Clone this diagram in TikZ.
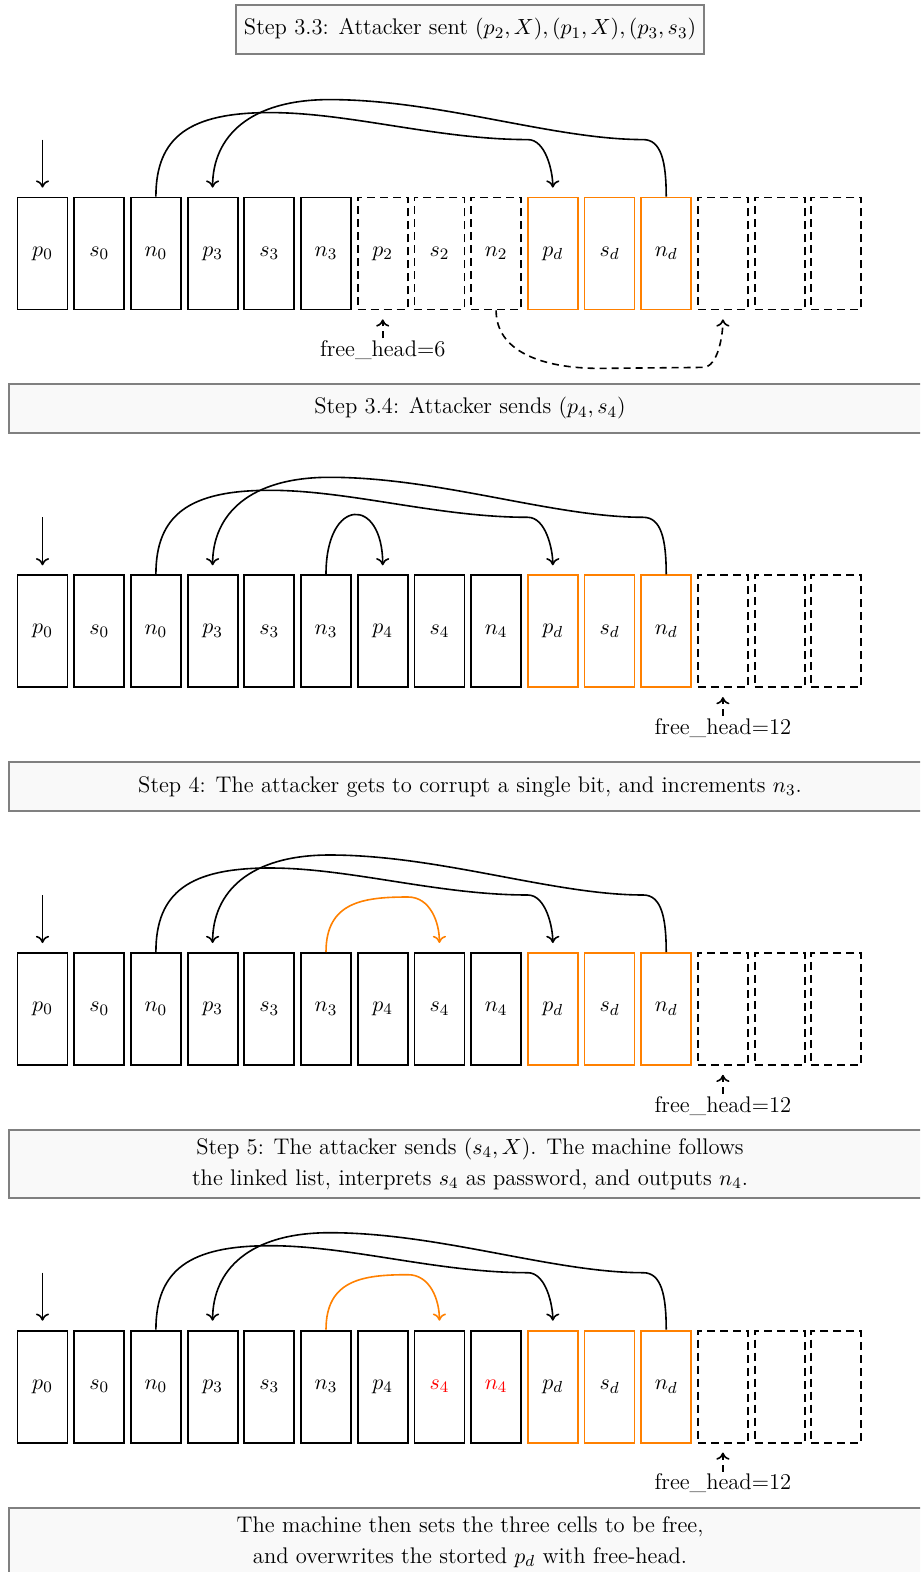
\documentclass[tikz,border=0pt]{standalone}
\usetikzlibrary{calc,arrows.meta}
\definecolor{myorange}{RGB}{255,128,0}
\definecolor{boxgray}{RGB}{128,128,128}
\definecolor{boxfill}{RGB}{249,249,249}
\begin{document}
\begin{tikzpicture}[x=0.5pt,y=-0.5pt,
  font=\fontsize{11.3}{15.5}\selectfont,
  >={To[length=3.6pt,width=6.6pt]},
  cellbase/.style={rectangle, minimum width=25pt, minimum height=56pt, inner sep=0pt, line width=0.9pt},
  cell/.style={cellbase, draw=black},
  hotcell/.style={cell, text=red},
  freecell/.style={cellbase, draw=black, dash pattern=on 4pt off 2.5pt},
  dcell/.style={cellbase, draw=myorange},
  stepbox/.style={rectangle, draw=boxgray, fill=boxfill, line width=1pt, inner xsep=4pt, minimum height=24.5pt, align=center},
  widebox/.style={stepbox, minimum width=461pt},
  link/.style={->, line width=0.8pt, shorten >=4.5pt},
  hotlink/.style={link, draw=myorange},
  freelink/.style={->, line width=0.8pt, dash pattern=on 3.5pt off 2.5pt, shorten >=4.5pt},
  headlabel/.style={anchor=north, inner sep=1pt},
]
\useasboundingbox (0,0) rectangle (920,1572);
\clip (0,0) rectangle (920,1572);

% ---------- title boxes ----------
\node[stepbox] (t0) at (470,29.5) {Step 3.3: Attacker sent $(p_2,X),(p_1,X),(p_3,s_3)$};
\node[widebox] (t1) at (470,408.5) {Step 3.4: Attacker sends $(p_4,s_4)$};
\node[widebox] (t2) at (470,786.5) {Step 4: The attacker gets to corrupt a single bit, and increments $n_3$.};
\node[widebox, minimum height=34pt] (t3) at (470,1164) {Step 5: The attacker sends $(s_4,X)$. The machine follows\\the linked list, interprets $s_4$ as password, and outputs $n_4$.};
\node[widebox, minimum height=34pt] (t4) at (470,1542) {The machine then sets the three cells to be free,\\and overwrites the storted $p_d$ with free-head.};

% ---------- cells ----------
\foreach \i/\lab/\sty in {0/p_0/cell,1/s_0/cell,2/n_0/cell,3/p_3/cell,4/s_3/cell,5/n_3/cell,6/p_2/freecell,7/s_2/freecell,8/n_2/freecell,9/p_d/dcell,10/s_d/dcell,11/n_d/dcell,12//freecell,13//freecell,14//freecell}
  \node[\sty] (a\i) at ({42.5+56.7*\i},253.5) {\ensuremath{\lab}};
\foreach \r/\y in {b/631.2,c/1008.9}
  \foreach \i/\lab/\sty in {0/p_0/cell,1/s_0/cell,2/n_0/cell,3/p_3/cell,4/s_3/cell,5/n_3/cell,6/p_4/cell,7/s_4/cell,8/n_4/cell,9/p_d/dcell,10/s_d/dcell,11/n_d/dcell,12//freecell,13//freecell,14//freecell}
    \node[\sty] (\r\i) at ({42.5+56.7*\i},\y) {\ensuremath{\lab}};
\foreach \i/\lab/\sty in {0/p_0/cell,1/s_0/cell,2/n_0/cell,3/p_3/cell,4/s_3/cell,5/n_3/cell,6/p_4/cell,7/s_4/hotcell,8/n_4/hotcell,9/p_d/dcell,10/s_d/dcell,11/n_d/dcell,12//freecell,13//freecell,14//freecell}
  \node[\sty] (d\i) at ({42.5+56.7*\i},1386.6) {\ensuremath{\lab}};

% ---------- common links ----------
\foreach \r in {a,b,c,d}{
  \coordinate (\r s) at ($(\r0.north)+(0,-57)$);
  \draw[link] (\r s) -- (\r0.north);
  \draw[link] (\r2.north) .. controls +(0,-60) and +(-80,0) .. ($(\r2.north)+(114,-84)$)
     .. controls +(80,0) and +(-90,0) .. ($(\r9.north)+(-25,-57)$)
     .. controls +(18,0) and +(0,-25) .. (\r9.north);
  \draw[link] (\r11.north) .. controls +(0,-35) and +(18,0) .. ($(\r11.north)+(-23,-57)$)
     .. controls +(-90,0) and +(110,0) .. ($(\r3.north)+(117,-97)$)
     .. controls +(-80,0) and +(0,-60) .. (\r3.north);
}

% ---------- row specific ----------
\draw[link] (b5.north) .. controls +(0,-78) and +(0,-78) .. (b6.north);
\foreach \r in {c,d}
  \draw[hotlink] (\r5.north) .. controls +(0,-50) and +(-45,0) .. ($(\r5.north)+(82,-55)$)
     .. controls +(22,0) and +(0,-30) .. (\r7.north);

\draw[freelink] (a8.south) .. controls +(0,40) and +(-60,0) .. ($(a8.south)+(104,58)$)
   -- ($(a12.south)+(-20,57)$) .. controls +(15,0) and +(0,25) .. (a12.south);

% ---------- free head labels ----------
\node[headlabel] (ah) at ($(a6.south)+(0,28)$) {free\_head=6};
\draw[freelink] (ah.north) -- (a6.south);
\foreach \r in {b,c,d}{
  \node[headlabel] (\r h) at ($(\r12.south)+(0,28)$) {free\_head=12};
  \draw[freelink] (\r h.north) -- (\r12.south);
}
\end{tikzpicture}
\end{document}
